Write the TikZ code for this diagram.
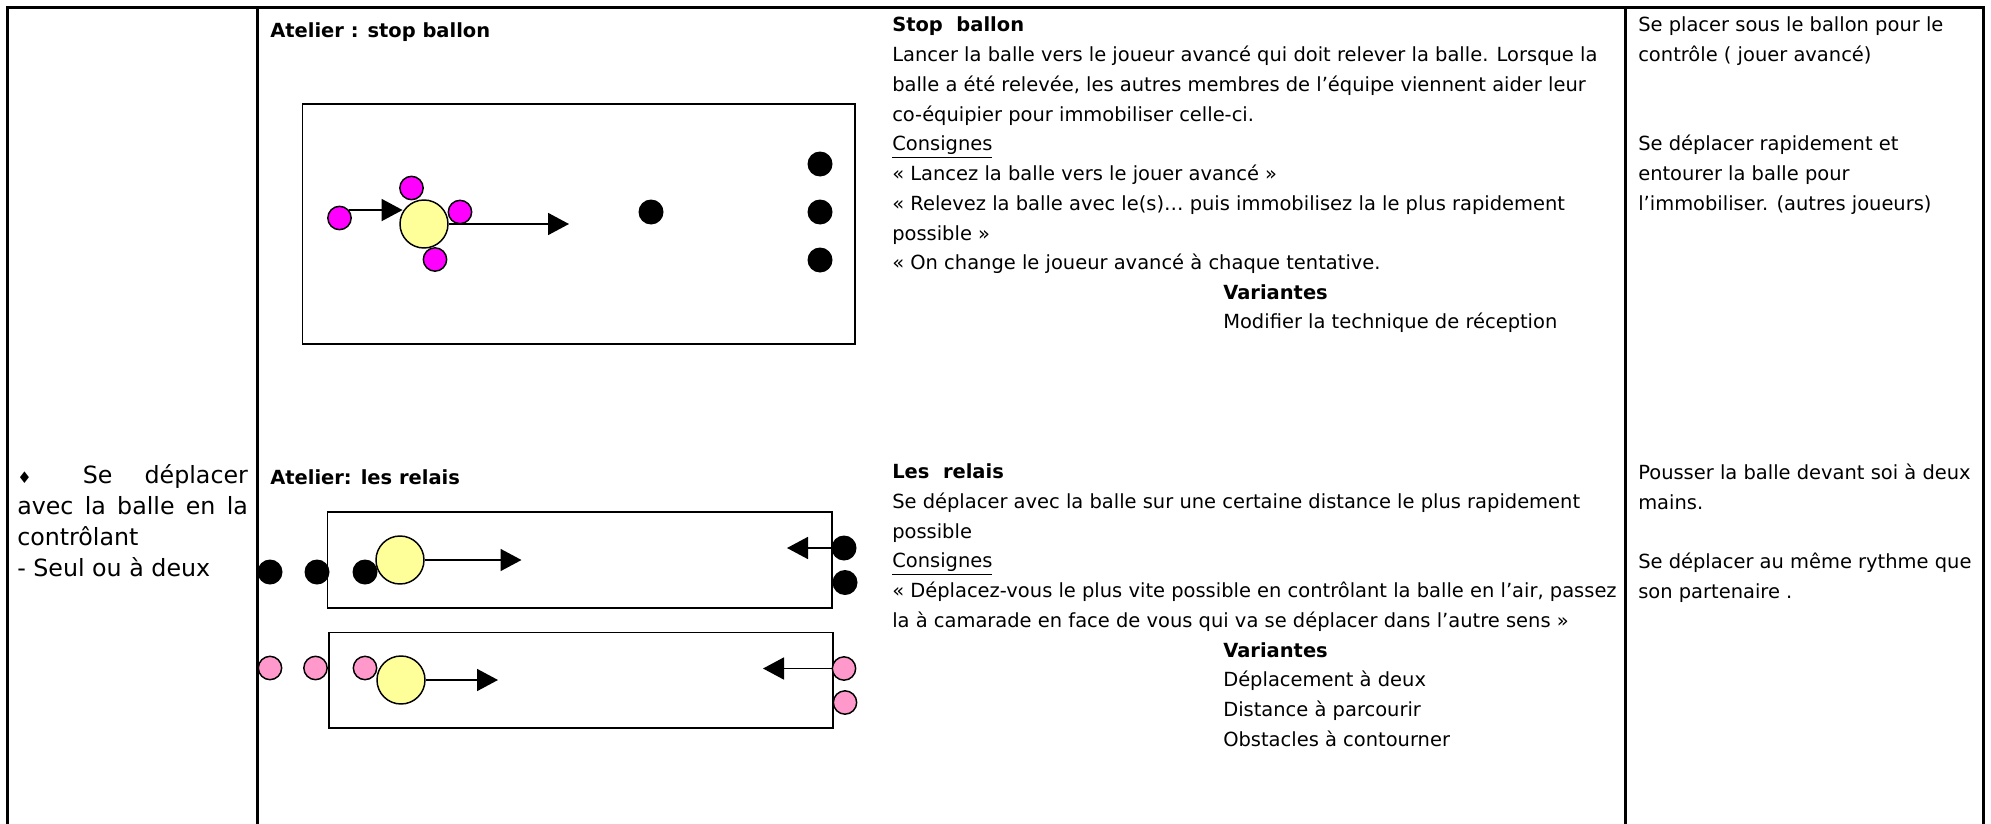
\documentclass[tikz,border=0pt]{standalone}
\usepackage{fontspec}
\setmainfont{DejaVu Sans}
\usetikzlibrary{arrows.meta}
\definecolor{jaune}{HTML}{FFFF99}
\definecolor{fuchsia}{HTML}{FF00FF}
\definecolor{rose}{HTML}{FF99CC}
\tikzstyle{trait} = [line width=2.25pt]
\tikzstyle{terrain} = [draw, line width=1.1pt]
\tikzstyle{bal} = [circle, draw, fill=jaune, line width=1.1pt, inner sep=0pt,
    minimum size=36pt]
\tikzstyle{jm} = [circle, draw, fill=fuchsia, line width=1.1pt, inner sep=0pt,
    minimum size=17.5pt]
\tikzstyle{jr} = [jm, fill=rose]
\tikzstyle{jn} = [circle, fill=black, inner sep=0pt, minimum size=18.75pt]
\tikzstyle{txt} = [anchor=north west, inner sep=0pt, align=left,
    font=\fontsize{14.6}{22.3}\selectfont, execute at begin node={\rule{0pt}{15.6pt}}]
\tikzstyle{grand} = [txt, font=\fontsize{17.8}{23.2}\selectfont,
    execute at begin node={\rule{0pt}{19.2pt}}]

\begin{document}
\begin{tikzpicture}[x=0.75pt,y=-0.75pt,>={Triangle[length=15.75pt,width=16.5pt]},
                    fleche/.style={->,line width=1.3pt}]
  \useasboundingbox (0,0) rectangle (1991,824);

  \draw[trait] (7.5,824) -- (7.5,7.5) -- (1983.5,7.5) -- (1983.5,824);
  \draw[trait] (257.5,7.5) -- (257.5,824);
  \draw[trait] (1625.5,7.5) -- (1625.5,824);

  \node[grand] (theme) at (17,464.5) {\makebox[173pt][s]{{\fontsize{12}{12}\selectfont ♦}\hskip 0pt plus 1.6fil Se\hskip 0pt plus 1fil déplacer}\\
    \makebox[173pt][s]{avec la balle en la}\\ contrôlant\\ - Seul ou à deux};

  % stop ballon
  \node[txt] (at1) at (270,16.9) {\textbf{Atelier : stop ballon}};
  \draw[terrain] (302.5,104) rectangle (855,344);
  \node[bal]  (b1) at (424,224) {};
  \node[jm]   (m1) at (339.5,218) {};
  \node[jm]   (m2) at (411.5,188) {};
  \node[jm]   (m3) at (460,212) {};
  \node[jm]   (m4) at (435,259.5) {};
  \node[jn]   (n1) at (651,212) {};
  \node[jn]   (n2) at (820,164) {};
  \node[jn]   (n3) at (820,212) {};
  \node[jn]   (n4) at (820,260) {};
  \coordinate (f1) at (569,224);

  \path[fleche] (m1.40) edge (m1.40 -| b1.150)
  (b1.east) edge (f1);

  % relais
  \node[txt] (at2) at (270,463.7) {\textbf{Atelier: les relais}};
  \draw[terrain] (327.5,512) rectangle (832,608);
  \draw[terrain] (329,632.5) rectangle (833,728);
  \node[jn]   (n5) at (270,572) {};
  \node[jn]   (n6) at (317,572) {};
  \node[jn]   (n7) at (365,572) {};
  \node[bal]  (b2) at (400,560) {};
  \node[jn]   (n8) at (844,548) {};
  \node[jn]   (n9) at (845,582.5) {};
  \node[jr]   (r1) at (270,668) {};
  \node[jr]   (r2) at (315.5,668) {};
  \node[jr]   (r3) at (365,668) {};
  \node[bal]  (b3) at (401,680) {};
  \node[jr]   (r4) at (844,668.5) {};
  \node[jr]   (r5) at (845,702.5) {};
  \coordinate (f2) at (521.5,560);
  \coordinate (f3) at (787,548);
  \coordinate (f4) at (498,680);
  \coordinate (f5) at (763,668.5);

  \path[fleche] (b2.east) edge (f2)
  (n8.west) edge (f3)
  (b3.east) edge (f4)
  (r4.west) edge (f5);

  \node[txt] (desc1) at (892,16.9) {\textbf{Stop\ \ ballon}\\
    Lancer la balle vers le joueur avancé qui doit relever la balle. Lorsque la\\
    balle a été relevée, les autres membres de l’équipe viennent aider leur\\
    co-équipier pour immobiliser celle-ci.\\
    \underline{Consignes}\\
    « Lancez la balle vers le jouer avancé »\\
    « Relevez la balle avec le(s)… puis immobilisez la le plus rapidement\\
    possible »\\
    « On change le joueur avancé à chaque tentative.};
  \node[txt] (var1) at (1223,284.2) {\textbf{Variantes}\\ Modifier la technique de réception};
  \node[txt] (crit1) at (1638,16.9) {Se placer sous le ballon pour le\\
    contrôle ( jouer avancé)\\[44.6pt]
    Se déplacer rapidement et\\
    entourer la balle pour\\
    l’immobiliser. (autres joueurs)};

  \node[txt] (desc2) at (892,463.7) {\textbf{Les\ \ relais}\\
    Se déplacer avec la balle sur une certaine distance le plus rapidement\\
    possible\\
    \underline{Consignes}\\
    « Déplacez-vous le plus vite possible en contrôlant la balle en l’air, passez\\
    la à camarade en face de vous qui va se déplacer dans l’autre sens »};
  \node[txt] (var2) at (1223,642) {\textbf{Variantes}\\ Déplacement à deux\\
    Distance à parcourir\\ Obstacles à contourner};
  \node[txt] (crit2) at (1638,463.7) {Pousser la balle devant soi à deux\\
    mains.\\[22.3pt]
    Se déplacer au même rythme que\\
    son partenaire .};
\end{tikzpicture}
\end{document}
